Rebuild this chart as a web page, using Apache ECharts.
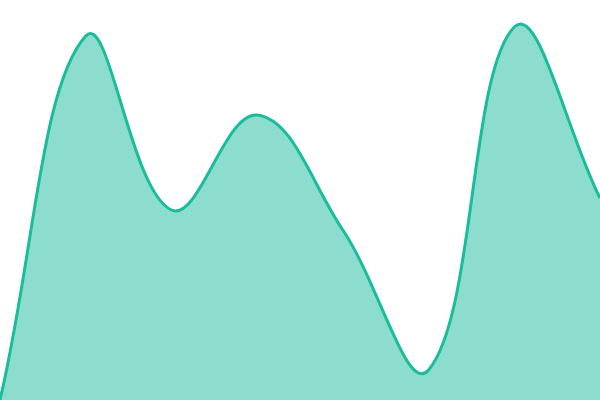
<!DOCTYPE html>
<html><head><meta charset="utf-8">
<script src="https://cdn.jsdelivr.net/npm/echarts@6/dist/echarts.min.js"></script>
<style>html,body{margin:0;padding:0;background:#fff}#c{width:600px;height:400px}</style>
</head><body><div id="c"></div>
<script>
var categories = ['A','B','C','D','E','F','G','H'];
var values = [0, 364, 190, 285, 170, 30, 373, 202];
var chart = echarts.init(document.getElementById('c'));
function renderCurve(params, api) {
  if (params.dataIndex !== 0) return null;
  var pts = values.map(function (v, i) { return api.coord([i, v]); });
  var n = pts.length, t = 0.4;
  var cpPrev = [], cpNext = [];
  for (var i = 0; i < n; i++) {
    var a = pts[Math.max(0, i - 1)], p = pts[i], b = pts[Math.min(n - 1, i + 1)];
    var d01 = Math.hypot(p[0] - a[0], p[1] - a[1]);
    var d12 = Math.hypot(b[0] - p[0], b[1] - p[1]);
    var s = d01 + d12 || 1;
    var fa = t * d01 / s, fb = t * d12 / s;
    var vx = b[0] - a[0], vy = b[1] - a[1];
    cpPrev.push([p[0] - fa * vx, p[1] - fa * vy]);
    cpNext.push([p[0] + fb * vx, p[1] + fb * vy]);
  }
  var d = 'M' + pts[0][0] + ',' + pts[0][1];
  for (var j = 0; j < n - 1; j++) {
    d += ' C' + cpNext[j][0] + ',' + cpNext[j][1] + ' ' + cpPrev[j + 1][0] + ',' + cpPrev[j + 1][1] + ' ' + pts[j + 1][0] + ',' + pts[j + 1][1];
  }
  var b0 = api.coord([0, 0]), b1 = api.coord([n - 1, 0]);
  var area = d + ' L' + b1[0] + ',' + b1[1] + ' L' + b0[0] + ',' + b0[1] + ' Z';
  return {
    type: 'group',
    children: [
      { type: 'path', shape: { pathData: area }, style: { fill: 'rgba(26,188,156,0.5)', stroke: null } },
      { type: 'path', shape: { pathData: d }, style: { fill: null, stroke: '#1abc9c', lineWidth: 3 } }
    ]
  };
}
chart.setOption({
  animation:false,
  grid:{left:0,right:0,top:0,bottom:0},
  xAxis:{type:'category',data:categories,boundaryGap:false,show:false},
  yAxis:{type:'value',min:0,max:400,show:false},
  series:[{type:'custom',renderItem:renderCurve,data:values.map(function(v,i){return [i,v];}),encode:{x:0,y:1},clip:false}]
});
</script></body></html>
